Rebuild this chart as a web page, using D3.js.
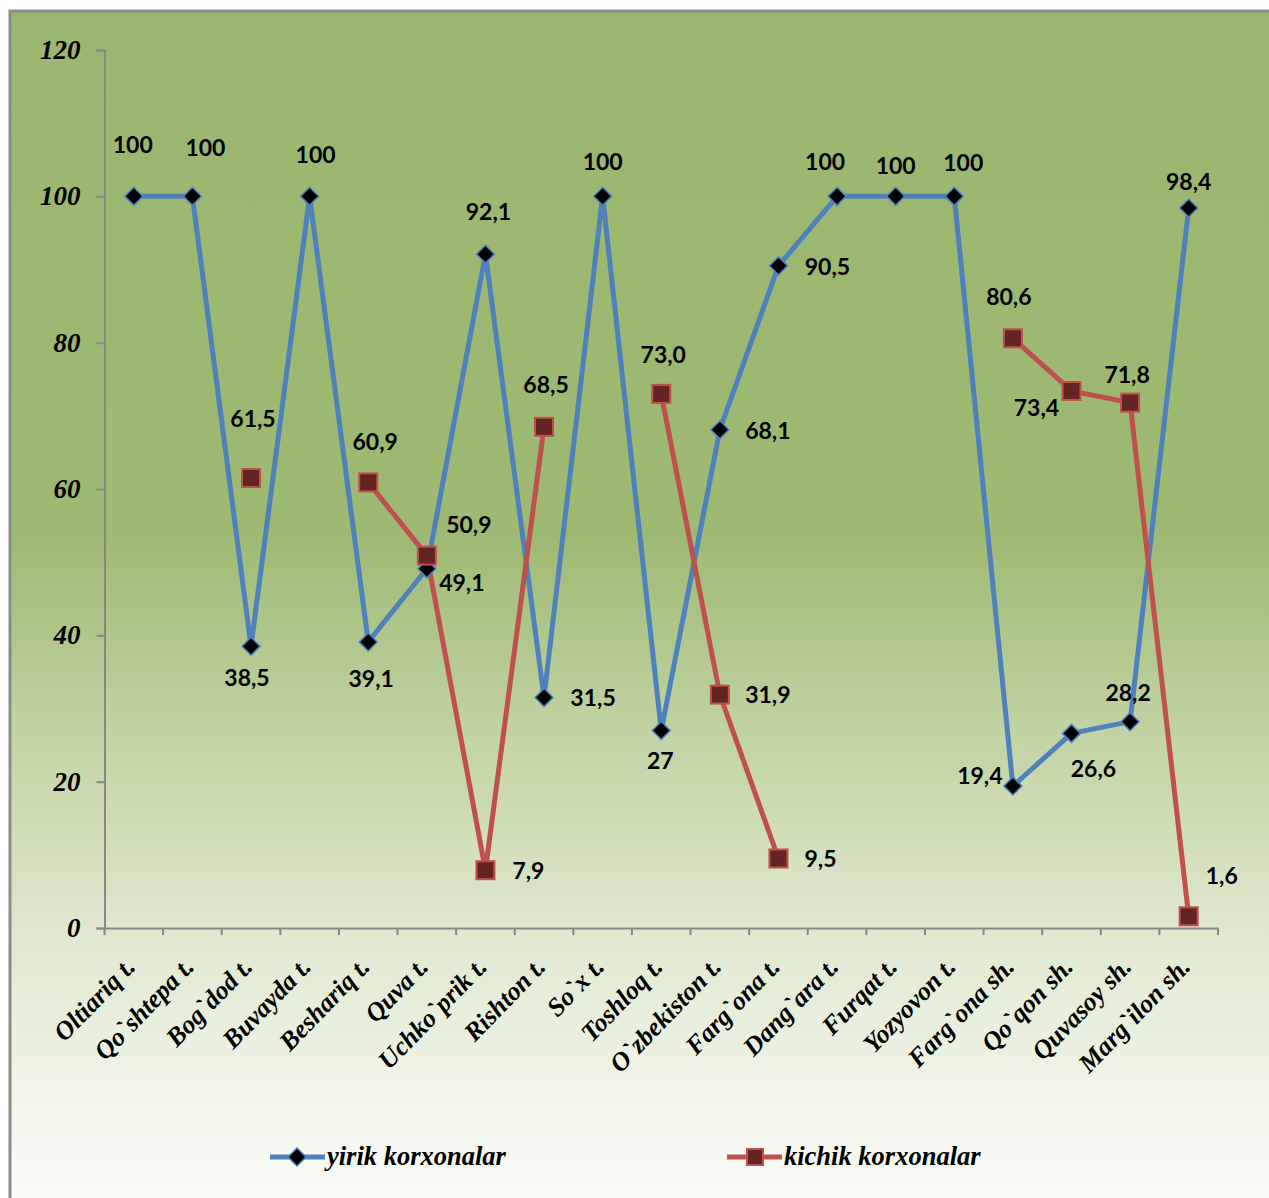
<!DOCTYPE html>
<html>
<head>
<meta charset="utf-8">
<script src="https://cdn.jsdelivr.net/npm/d3@7"></script>
<style>
  body { margin: 0; background: #fff; }
  svg { display: block; }
</style>
</head>
<body>
<svg id="chart" width="1269" height="1198"></svg>
<script>
var categories = ["Oltiariq t.", "Qo`shtepa t.", "Bog`dod t.", "Buvayda t.", "Beshariq t.", "Quva t.",
  "Uchko`prik t.", "Rishton t.", "So`x t.", "Toshloq t.", "O`zbekiston t.", "Farg`ona t.",
  "Dang`ara t.", "Furqat t.", "Yozyovon t.", "Farg`ona sh.", "Qo`qon sh.", "Quvasoy sh.", "Marg`ilon sh."];

var yirik = [100, 100, 38.5, 100, 39.1, 49.1, 92.1, 31.5, 100, 27, 68.1, 90.5, 100, 100, 100, 19.4, 26.6, 28.2, 98.4];
var kichik = [null, null, 61.5, null, 60.9, 50.9, 7.9, 68.5, null, 73.0, 31.9, 9.5, null, null, null, 80.6, 73.4, 71.8, 1.6];

var yTicks = [0, 20, 40, 60, 80, 100, 120];
var seriesNames = ["yirik korxonalar", "kichik korxonalar"];

// hand placed data labels (dx, dy from the point), like in the original
var yirikLabelPos = [[-1,-52],[13,-49],[-4,31],[6,-42],[3,37],[35,14],[3,-42],[49,0],[0,-35],[-1,30],
  [48,1],[49,1],[-12,-35],[0,-31],[9,-34],[-33,-10],[22,35],[-2,-29],[0,-26]];
var kichikLabelPos = [null,null,[2,-59],null,[7,-41],[42,-31],[43,1],[2,-42],null,[2,-39],
  [48,0],[42,0],null,null,null,[-4,-42],[-35,17],[-3,-28],[33,-41]];

var svg = d3.select("svg#chart"),
    width = +svg.attr("width"),
    height = +svg.attr("height");

var blue = "#4f81bd", red = "#c0504d";
var serif = "'Liberation Serif', 'Times New Roman', serif";
var sans = "Lato, 'Open Sans', sans-serif";

// background
var grad = svg.append("defs").append("linearGradient")
    .attr("id", "bg").attr("gradientUnits", "userSpaceOnUse")
    .attr("x1", 0).attr("y1", 11).attr("x2", 0).attr("y2", height);
[[0, "#9bb66f"], [0.44, "#9eb972"], [0.6, "#c0d2a1"], [0.78, "#e0e9d0"], [1, "#fbfcf9"]].forEach(function(s) {
  grad.append("stop").attr("offset", s[0]).attr("stop-color", s[1]);
});

svg.append("rect")
    .attr("x", 10).attr("y", 11).attr("width", 1400).attr("height", 1400)
    .attr("fill", "url(#bg)").attr("stroke", "#8c8c8c").attr("stroke-width", 3);

var x = d3.scaleBand().domain(categories).range([104.5, 1218]);
var y = d3.scaleLinear().domain([0, 120]).range([928, 50]);
function cx(i) { return x(categories[i]) + x.bandwidth() / 2; }
function fmt(v, fixed) { return (fixed ? v.toFixed(1) : String(v)).replace(".", ","); }

// axes
var yAxis = svg.append("g").attr("transform", "translate(104.5,0)")
    .call(d3.axisLeft(y).tickValues(yTicks).tickSize(8).tickPadding(16));
var xAxis = svg.append("g").attr("transform", "translate(0,928)")
    .call(d3.axisBottom(x).tickSize(0).tickFormat(""));
[yAxis, xAxis].forEach(function(a) {
  a.select(".domain").attr("stroke", "#878787").attr("stroke-width", 2);
  a.selectAll("line").attr("stroke", "#878787").attr("stroke-width", 2);
});
yAxis.selectAll("text")
    .attr("font-family", serif).attr("font-style", "italic").attr("font-weight", "bold")
    .attr("font-size", 27).attr("fill", "#000");

// x ticks at category boundaries
xAxis.selectAll(".bnd")
    .data(d3.range(categories.length + 1))
    .enter().append("line")
    .attr("x1", function(i) { return 104.5 + i * x.step(); })
    .attr("x2", function(i) { return 104.5 + i * x.step(); })
    .attr("y1", 0).attr("y2", 7)
    .attr("stroke", "#878787").attr("stroke-width", 2);

// category labels
svg.append("g").selectAll("text")
    .data(categories)
    .enter().append("text")
    .attr("transform", function(d, i) { return "translate(" + (cx(i) + 3) + ",968) rotate(-46)"; })
    .attr("text-anchor", "end")
    .attr("font-family", serif).attr("font-style", "italic").attr("font-weight", "bold")
    .attr("font-size", 26).attr("fill", "#000")
    .text(function(d) { return d; });

// lines
var line = d3.line()
    .defined(function(d) { return d != null; })
    .x(function(d, i) { return cx(i); })
    .y(function(d) { return y(d); });

svg.append("path").datum(yirik)
    .attr("d", line).attr("fill", "none").attr("stroke", blue).attr("stroke-width", 5)
    .attr("stroke-linejoin", "round");
svg.append("path").datum(kichik)
    .attr("d", line).attr("fill", "none").attr("stroke", red).attr("stroke-width", 5)
    .attr("stroke-linejoin", "round");

var diamond = "M0,-9L9,0L0,9L-9,0Z";

svg.append("g").selectAll("path")
    .data(yirik)
    .enter().append("path")
    .attr("d", diamond)
    .attr("transform", function(d, i) { return "translate(" + cx(i) + "," + y(d) + ")"; })
    .attr("fill", "#000").attr("stroke", blue).attr("stroke-width", 1.5);

var kPts = kichik.map(function(d, i) { return {v: d, i: i}; }).filter(function(d) { return d.v != null; });
svg.append("g").selectAll("rect")
    .data(kPts)
    .enter().append("rect")
    .attr("x", function(d) { return cx(d.i) - 9; })
    .attr("y", function(d) { return y(d.v) - 9; })
    .attr("width", 18).attr("height", 18)
    .attr("fill", "#632523").attr("stroke", red).attr("stroke-width", 2);

// data labels
function labels(data, pos, fixed) {
  svg.append("g").selectAll("text")
    .data(data.map(function(d, i) { return {v: d, i: i}; }).filter(function(d) { return d.v != null; }))
    .enter().append("text")
    .attr("x", function(d) { return cx(d.i) + pos[d.i][0]; })
    .attr("y", function(d) { return y(d.v) + pos[d.i][1]; })
    .attr("dy", "0.36em")
    .attr("text-anchor", "middle")
    .attr("font-family", sans).attr("font-weight", "bold").attr("font-size", 23).attr("fill", "#000")
    .text(function(d) { return fmt(d.v, fixed); });
}
labels(yirik, yirikLabelPos, false);
labels(kichik, kichikLabelPos, true);

// legend
var legend = svg.append("g").attr("transform", "translate(0,1157)");
var lx = [270, 727];
seriesNames.forEach(function(name, k) {
  var g = legend.append("g").attr("transform", "translate(" + lx[k] + ",0)");
  g.append("line").attr("x1", 0).attr("x2", 55).attr("stroke", k ? red : blue).attr("stroke-width", 5);
  if (k) {
    g.append("rect").attr("x", 20).attr("y", -8).attr("width", 16).attr("height", 16)
      .attr("fill", "#632523").attr("stroke", red).attr("stroke-width", 2);
  } else {
    g.append("path").attr("d", diamond).attr("transform", "translate(27,0)")
      .attr("fill", "#000").attr("stroke", blue).attr("stroke-width", 1.5);
  }
  g.append("text").attr("x", 57).attr("dy", "0.32em")
    .attr("font-family", serif).attr("font-style", "italic").attr("font-weight", "bold")
    .attr("font-size", 26.5).attr("fill", "#000")
    .text(name);
});
</script>
</body>
</html>
